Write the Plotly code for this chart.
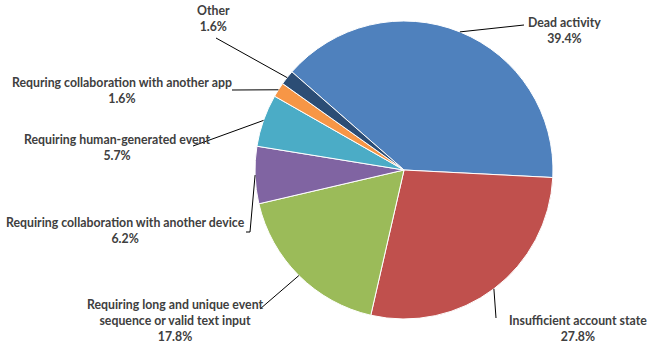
import math
import plotly.graph_objects as go

# ---- data ----
categories = [
    "Dead activity",
    "Insufficient account state",
    "Requiring long and unique event sequence or valid text input",
    "Requiring collaboration with another device",
    "Requiring human-generated event",
    "Requring collaboration with another app",
    "Other",
]
values = [39.4, 27.8, 17.8, 6.2, 5.7, 1.6, 1.6]
label_lines = [
    ["Dead activity"],
    ["Insufficient account state"],
    ["Requiring long and unique event", "sequence or valid text input"],
    ["Requiring collaboration with another device"],
    ["Requiring human-generated event"],
    ["Requring collaboration with another app"],
    ["Other"],
]

# ---- style / layout ----
W, H = 647, 351
colors = ["#4F81BD", "#C0504D", "#9BBB59", "#8064A2", "#4BACC6", "#F79646", "#2C4D75"]
CX, CY, R = 404, 170, 149          # pie centre / radius in pixels
ROT = 311.2                         # start angle (deg clockwise from 12 o'clock)
FONT = "Lato"
TXT = "#404040"

# label centre positions (pixels) and leader-line elbow points
label_pos = [(564, 30), (578, 328), (175, 320), (125, 230), (117, 147), (122, 90), (213, 18)]
elbows = [
    [(524, 25)],
    [(496, 318)],
    [(260, 309)],
    [(250, 232), (246, 232)],
    [(193, 146)],
    [(232, 90)],
    [(216, 38)],
]

fig = go.Figure()
fig.add_trace(go.Pie(
    labels=categories, values=values, sort=False, direction="clockwise",
    rotation=ROT, textinfo="none", hoverinfo="skip",
    marker=dict(colors=colors, line=dict(color="white", width=1)),
    domain=dict(x=[(CX - R) / W, (CX + R) / W], y=[(H - CY - R) / H, (H - CY + R) / H]),
    showlegend=False,
))

total = sum(values)
cum = 0.0
shapes, annotations = [], []
for i, v in enumerate(values):
    mid = ROT + (cum + v / 2) / total * 360
    cum += v
    a = math.radians(mid)
    ex, ey = CX + R * math.sin(a), CY - R * math.cos(a)
    pts = [(ex, ey)] + elbows[i]
    for (x0, y0), (x1, y1) in zip(pts[:-1], pts[1:]):
        shapes.append(dict(type="line", xref="x", yref="y", x0=x0, y0=y0, x1=x1, y1=y1,
                           line=dict(color="black", width=1)))
    txt = "<br>".join(label_lines[i] + [f"{v:.1f}%"])
    lx, ly = label_pos[i]
    annotations.append(dict(xref="x", yref="y", x=lx, y=ly, text=txt, showarrow=False,
                            xanchor="center", yanchor="middle", align="center",
                            font=dict(family=FONT, size=12.3, color=TXT, weight="bold")))

fig.update_layout(
    width=W, height=H, margin=dict(l=0, r=0, t=0, b=0),
    paper_bgcolor="white", plot_bgcolor="rgba(0,0,0,0)",
    xaxis=dict(range=[0, W], visible=False, fixedrange=True),
    yaxis=dict(range=[H, 0], visible=False, fixedrange=True),
    shapes=shapes, annotations=annotations,
)
fig.write_html("out.html")
